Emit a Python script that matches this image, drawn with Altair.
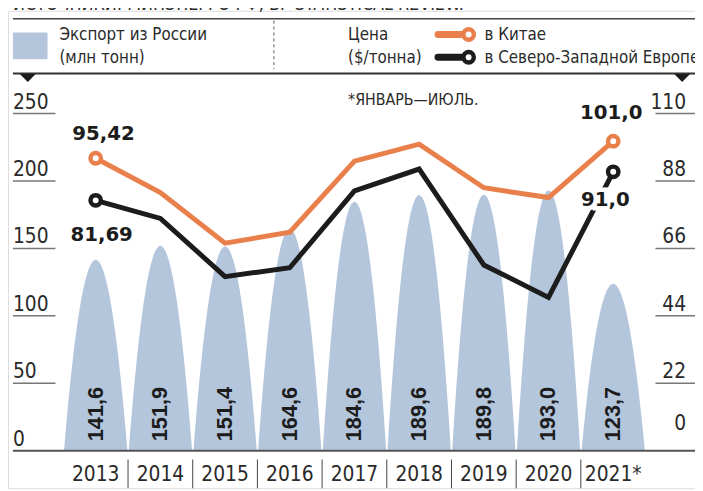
import altair as alt
import pandas as pd

# ---------------- data ----------------
years = ["2013", "2014", "2015", "2016", "2017", "2018", "2019", "2020", "2021*"]
export_mt = [141.6, 151.9, 151.4, 164.6, 184.6, 189.6, 189.8, 193.0, 123.7]
price_china = [95.42, 84.2, 67.7, 71.3, 94.5, 100.0, 85.8, 82.6, 101.0]
price_europe = [81.69, 75.8, 56.8, 59.7, 84.8, 91.9, 60.6, 50.0, 91.0]
left_ticks = [0, 50, 100, 150, 200, 250]
right_ticks = [0, 22, 44, 66, 88, 110]

# ---------------- style ----------------
BAR = "#b4c6dc"
ORANGE = "#e9804c"
BLACK = "#1c1c1c"
TXT = "#2a2a2a"
COND = "Liberation Sans Narrow, DejaVu Sans Condensed, Roboto Condensed, Roboto, sans-serif"
BOLD = "Liberation Sans, Arial, sans-serif"
BOLD2 = "DejaVu Sans, sans-serif"
W, H = 695, 483
K = 250 / 110  # price axis -> export axis
SHAPE_STEPS = [i / 20 for i in range(-20, 21)]  # bell outline sampling (geometry only)

X = alt.Scale(domain=[-1.3557, 9.2647], nice=False, zero=False)
Y = alt.Scale(domain=[-27.86, 326.25], nice=False, zero=False)

bars_df = pd.DataFrame({"year": years, "idx": list(range(len(years))), "export": export_mt})
shape_df = bars_df.merge(pd.DataFrame({"ts": SHAPE_STEPS}), how="cross")
lines_df = pd.DataFrame({
    "idx": list(range(len(years))) * 2,
    "series": ["China"] * len(years) + ["Europe"] * len(years),
    "price": price_china + price_europe,
})
series_scale = alt.Scale(domain=["China", "Europe"], range=[ORANGE, BLACK])
one = pd.DataFrame({"a": [0]})

# bell-shaped bars
bars = (
    alt.Chart(shape_df)
    .transform_calculate(
        bx="datum.idx + 0.49 * datum.ts",
        by="datum.export * (1 - datum.ts * datum.ts)",
        bz="0",
    )
    .mark_area(color=BAR, opacity=1)
    .encode(
        x=alt.X("bx:Q", scale=X, axis=None),
        y=alt.Y("by:Q", scale=Y, axis=None, stack=None),
        y2="bz:Q",
        detail="year:N",
    )
)

bar_labels = (
    alt.Chart(bars_df)
    .transform_calculate(lbl="replace(format(datum.export, '.1f'), '.', ',')")
    .mark_text(angle=270, font=BOLD, fontWeight="bold", fontSize=22, color=BLACK,
               align="center", baseline="middle")
    .encode(x=alt.X("idx:Q", scale=X), y=alt.value(408), text="lbl:N")
)

year_labels = (
    alt.Chart(bars_df)
    .mark_text(font=COND, fontSize=21, color=TXT, align="center", baseline="middle")
    .encode(x=alt.X("idx:Q", scale=X), y=alt.value(470), text="year:N")
)

year_seps = (
    alt.Chart(bars_df)
    .transform_filter("datum.idx < 8")
    .transform_calculate(sx="datum.idx + 0.5")
    .mark_rule(color="#444444", strokeWidth=1)
    .encode(x=alt.X("sx:Q", scale=X), y=alt.value(454), y2=alt.value(H))
)

baseline = alt.Chart(one).mark_rule(color="#555555", strokeWidth=2).encode(
    x=alt.value(5), x2=alt.value(W), y=alt.value(445)
)

lt_df = pd.DataFrame({"v": left_ticks})
left_rules = (
    alt.Chart(lt_df).transform_filter("datum.v > 0")
    .mark_rule(color="#777777", strokeWidth=1.5)
    .encode(x=alt.value(5), x2=alt.value(48), y=alt.Y("v:Q", scale=Y))
)
left_text = (
    alt.Chart(lt_df)
    .mark_text(font=COND, fontSize=21, color=TXT, align="left", baseline="alphabetic", dy=-5)
    .encode(x=alt.value(5), y=alt.Y("v:Q", scale=Y), text="v:Q")
)

rt_df = pd.DataFrame({"p": right_ticks})
right_rules = (
    alt.Chart(rt_df).transform_filter("datum.p > 0")
    .transform_calculate(v=f"datum.p * {K}")
    .mark_rule(color="#777777", strokeWidth=1.5)
    .encode(x=alt.value(655), x2=alt.value(W), y=alt.Y("v:Q", scale=Y))
)
right_text = (
    alt.Chart(rt_df).transform_filter("datum.p > 0")
    .transform_calculate(v=f"datum.p * {K}")
    .mark_text(font=COND, fontSize=21, color=TXT, align="right", baseline="alphabetic", dy=-5)
    .encode(x=alt.value(686), y=alt.Y("v:Q", scale=Y), text="p:Q")
)
right_zero = (
    alt.Chart(rt_df).transform_filter("datum.p == 0")
    .mark_text(font=COND, fontSize=21, color=TXT, align="right", baseline="alphabetic", dy=-21)
    .encode(x=alt.value(686), y=alt.Y("p:Q", scale=Y), text="p:Q")
)

lines = (
    alt.Chart(lines_df)
    .transform_calculate(v=f"datum.price * {K}")
    .mark_line(strokeWidth=5, strokeJoin="miter")
    .encode(
        x=alt.X("idx:Q", scale=X),
        y=alt.Y("v:Q", scale=Y),
        color=alt.Color("series:N", scale=series_scale, legend=None),
        order="idx:Q",
    )
)

ends = (
    alt.Chart(lines_df)
    .transform_filter("datum.idx == 0 || datum.idx == 8")
    .transform_calculate(v=f"datum.price * {K}")
    .mark_point(shape="circle", filled=True, fill="white", opacity=1, size=110, strokeWidth=4.5)
    .encode(
        x=alt.X("idx:Q", scale=X),
        y=alt.Y("v:Q", scale=Y),
        stroke=alt.Stroke("series:N", scale=series_scale, legend=None),
    )
)


def end_label(series, idx, fmt, dx, dy, halo=False):
    base = (
        alt.Chart(lines_df)
        .transform_filter(f"datum.series == '{series}' && datum.idx == {idx}")
        .transform_calculate(v=f"datum.price * {K}",
                             lbl=f"replace(format(datum.price, '{fmt}'), '.', ',')")
    )
    enc = dict(x=alt.X("idx:Q", scale=X), y=alt.Y("v:Q", scale=Y), text="lbl:N")
    txt = base.mark_text(font=BOLD2, fontWeight="bold", fontSize=20, color=BLACK,
                         align="center", baseline="middle", dx=dx, dy=dy).encode(**enc)
    if halo:
        h = base.mark_text(font=BOLD2, fontWeight="bold", fontSize=20, color="white",
                           stroke="white", strokeWidth=9, align="center", baseline="middle",
                           dx=dx, dy=dy).encode(**enc)
        return h, txt
    return (txt,)


lbls = []
lbls += end_label("China", 0, ".2f", 8, -24)
lbls += end_label("Europe", 0, ".2f", 6, 35)
lbls += end_label("China", 8, ".1f", -2, -28)
halo, eu_txt = end_label("Europe", 8, ".1f", -8, 29, halo=True)

# ---------------- header / legend ----------------
def txt(s, x, y, size=17, font=COND, align="left", color=TXT, baseline="middle"):
    return alt.Chart(one).mark_text(text=s, font=font, fontSize=size, color=color,
                                    align=align, baseline=baseline).encode(
        x=alt.value(x), y=alt.value(y))


def hrule(x1, x2, y, color="#444444", w=1.5):
    return alt.Chart(one).mark_rule(color=color, strokeWidth=w).encode(
        x=alt.value(x1), x2=alt.value(x2), y=alt.value(y))


header = [
    txt("ИСТОЧНИКИ: МИНЭНЕРГО РФ, BP STATISTICAL REVIEW.", 5, -1, size=18, baseline="alphabetic"),
    hrule(5, W, 8),
    hrule(5, W, 63.5, color="#333333", w=2),
    alt.Chart(one).mark_rect(color=BAR).encode(
        x=alt.value(5), x2=alt.value(40), y=alt.value(22), y2=alt.value(49)),
    txt("Экспорт из России", 52, 25),
    txt("(млн тонн)", 52, 48),
    alt.Chart(one).mark_rule(color="#555555", strokeWidth=1, strokeDash=[3, 3]).encode(
        x=alt.value(269), y=alt.value(10), y2=alt.value(59)),
    txt("Цена", 344, 25),
    txt("($/тонна)", 344, 48),
    alt.Chart(one).mark_rule(color=ORANGE, strokeWidth=7, strokeCap="round").encode(
        x=alt.value(435), x2=alt.value(462), y=alt.value(24)),
    alt.Chart(one).mark_rule(color=BLACK, strokeWidth=7, strokeCap="round").encode(
        x=alt.value(435), x2=alt.value(462), y=alt.value(47)),
    alt.Chart(one).mark_point(shape="circle", filled=True, fill="white", opacity=1, size=110,
                              strokeWidth=4.5, stroke=ORANGE).encode(
        x=alt.value(466), y=alt.value(24)),
    alt.Chart(one).mark_point(shape="circle", filled=True, fill="white", opacity=1, size=110,
                              strokeWidth=4.5, stroke=BLACK).encode(
        x=alt.value(466), y=alt.value(47)),
    txt("в Китае", 482, 25),
    txt("в Северо-Западной Европе", 482, 48),
    alt.Chart(one).mark_point(shape="M-1,-0.5L1,-0.5L0,0.5Z", filled=True, color=BLACK,
                              opacity=1, size=256).encode(x=alt.value(20), y=alt.value(68)),
    alt.Chart(one).mark_point(shape="M-1,-0.5L1,-0.5L0,0.5Z", filled=True, color=BLACK,
                              opacity=1, size=256).encode(x=alt.value(682), y=alt.value(68)),
    txt("*ЯНВАРЬ—ИЮЛЬ.", 344, 90, size=16),
]

chart = alt.layer(
    bars, bar_labels, year_seps, year_labels, baseline,
    left_rules, left_text, right_rules, right_text, right_zero,
    lines, halo, ends, *lbls, eu_txt, *header,
).properties(
    width=W, height=H,
    autosize=alt.AutoSizeParams(type="none"),
    padding=0,
).configure_view(stroke=None).configure(background="white")

chart.save("out.html", embed_options={"renderer": "svg", "actions": False})
